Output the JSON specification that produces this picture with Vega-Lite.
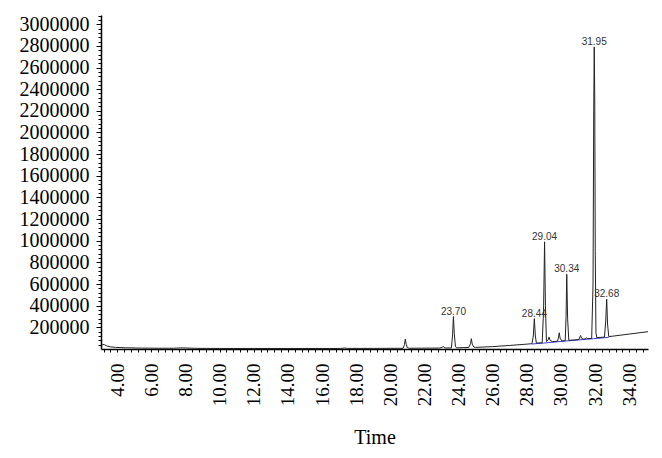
{
  "$schema": "https://vega.github.io/schema/vega-lite/v6.json",
  "width": 547,
  "height": 334,
  "autosize": {"type": "none"},
  "padding": {"left": 101, "top": 15, "right": 14, "bottom": 109},
  "background": "white",
  "config": {"view": {"stroke": null}},
  "datasets": {
    "signal": [
      {"t": 3.05, "v": 25000}, {"t": 3.15, "v": 42000}, {"t": 3.25, "v": 40000}, {"t": 3.4, "v": 28000},
      {"t": 3.6, "v": 20000}, {"t": 3.9, "v": 15000}, {"t": 4.5, "v": 11000}, {"t": 5.5, "v": 8000},
      {"t": 6.5, "v": 7000}, {"t": 7.3, "v": 7000}, {"t": 7.7, "v": 10000}, {"t": 8.1, "v": 9000},
      {"t": 8.6, "v": 6000}, {"t": 10, "v": 5000}, {"t": 12, "v": 5000}, {"t": 14, "v": 5000},
      {"t": 16, "v": 5000}, {"t": 17.1, "v": 5000}, {"t": 17.3, "v": 9000}, {"t": 17.5, "v": 5500},
      {"t": 19, "v": 5500}, {"t": 20.75, "v": 6500}, {"t": 20.83, "v": 40000}, {"t": 20.88, "v": 92000},
      {"t": 20.93, "v": 45000}, {"t": 21.0, "v": 12000}, {"t": 21.1, "v": 7000}, {"t": 22.9, "v": 8500},
      {"t": 23.05, "v": 15000}, {"t": 23.1, "v": 25000}, {"t": 23.15, "v": 14000}, {"t": 23.25, "v": 9000},
      {"t": 23.58, "v": 10000}, {"t": 23.65, "v": 130000}, {"t": 23.7, "v": 300000}, {"t": 23.75, "v": 140000},
      {"t": 23.82, "v": 20000}, {"t": 23.9, "v": 11000}, {"t": 24.6, "v": 14000}, {"t": 24.7, "v": 50000},
      {"t": 24.75, "v": 95000}, {"t": 24.8, "v": 45000}, {"t": 24.9, "v": 17000}, {"t": 25, "v": 15000},
      {"t": 26, "v": 22000}, {"t": 27, "v": 33000}, {"t": 28.0, "v": 45000}, {"t": 28.3, "v": 49000},
      {"t": 28.38, "v": 120000}, {"t": 28.44, "v": 280000}, {"t": 28.5, "v": 120000}, {"t": 28.56, "v": 55000},
      {"t": 28.9, "v": 57000}, {"t": 28.98, "v": 350000}, {"t": 29.04, "v": 990000}, {"t": 29.09, "v": 400000},
      {"t": 29.15, "v": 70000}, {"t": 29.25, "v": 85000}, {"t": 29.3, "v": 110000}, {"t": 29.36, "v": 80000},
      {"t": 29.5, "v": 68000}, {"t": 29.8, "v": 72000}, {"t": 29.86, "v": 110000}, {"t": 29.9, "v": 150000},
      {"t": 29.95, "v": 100000}, {"t": 30.05, "v": 75000}, {"t": 30.25, "v": 77000}, {"t": 30.3, "v": 300000},
      {"t": 30.34, "v": 690000}, {"t": 30.39, "v": 280000}, {"t": 30.46, "v": 80000}, {"t": 30.8, "v": 84000},
      {"t": 31.05, "v": 88000}, {"t": 31.12, "v": 115000}, {"t": 31.15, "v": 125000}, {"t": 31.2, "v": 100000},
      {"t": 31.3, "v": 91000}, {"t": 31.45, "v": 95000}, {"t": 31.5, "v": 105000}, {"t": 31.55, "v": 96000},
      {"t": 31.8, "v": 98000}, {"t": 31.88, "v": 600000}, {"t": 31.92, "v": 2200000}, {"t": 31.95, "v": 2790000},
      {"t": 31.98, "v": 2300000}, {"t": 32.01, "v": 900000}, {"t": 32.05, "v": 150000}, {"t": 32.1, "v": 105000},
      {"t": 32.55, "v": 110000}, {"t": 32.62, "v": 250000}, {"t": 32.68, "v": 460000}, {"t": 32.73, "v": 230000},
      {"t": 32.8, "v": 115000}, {"t": 33, "v": 118000}, {"t": 34, "v": 138000}, {"t": 35.1, "v": 160000}
    ],
    "baseline": [
      {"t": 28.3, "v": 46000}, {"t": 29.0, "v": 55000}, {"t": 30.3, "v": 74000},
      {"t": 31.9, "v": 95000}, {"t": 32.8, "v": 108000}
    ],
    "peaks": [
      {"t": 23.7, "v": 300000, "label": "23.70"},
      {"t": 28.44, "v": 280000, "label": "28.44"},
      {"t": 29.04, "v": 990000, "label": "29.04"},
      {"t": 30.34, "v": 690000, "label": "30.34"},
      {"t": 31.95, "v": 2790000, "label": "31.95"},
      {"t": 32.68, "v": 460000, "label": "32.68"}
    ]
  },
  "encoding": {
    "x": {
      "field": "t", "type": "quantitative",
      "scale": {"domain": [3.05, 35.1], "nice": false, "zero": false},
      "axis": {
        "title": "Time",
        "titleFont": "Liberation Serif", "titleFontSize": 20, "titleFontWeight": "normal", "titleColor": "#000",
        "titlePadding": 22,
        "values": [3.2,3.6,4,4.4,4.8,5.2,5.6,6,6.4,6.8,7.2,7.6,8,8.4,8.8,9.2,9.6,10,10.4,10.8,11.2,11.6,12,12.4,12.8,13.2,13.6,14,14.4,14.8,15.2,15.6,16,16.4,16.8,17.2,17.6,18,18.4,18.8,19.2,19.6,20,20.4,20.8,21.2,21.6,22,22.4,22.8,23.2,23.6,24,24.4,24.8,25.2,25.6,26,26.4,26.8,27.2,27.6,28,28.4,28.8,29.2,29.6,30,30.4,30.8,31.2,31.6,32,32.4,32.8,33.2,33.6,34,34.4,34.8],
        "labelExpr": "abs(datum.value - round(datum.value / 2) * 2) < 0.01 ? format(datum.value, '.2f') : ''",
        "labelAngle": 270, "labelAlign": "right", "labelBaseline": "middle",
        "labelFont": "Liberation Serif", "labelFontSize": 19, "labelColor": "#000",
        "labelPadding": 11, "labelOverlap": false, "labelFlush": false,
        "tickSize": 3, "tickColor": "#000", "tickWidth": 1,
        "domainColor": "#000", "domainWidth": 1.5, "grid": false
      }
    },
    "y": {
      "field": "v", "type": "quantitative",
      "scale": {"domain": [0, 3085000], "nice": false},
      "axis": {
        "title": null,
        "values": [40000,80000,120000,160000,200000,240000,280000,320000,360000,400000,440000,480000,520000,560000,600000,640000,680000,720000,760000,800000,840000,880000,920000,960000,1000000,1040000,1080000,1120000,1160000,1200000,1240000,1280000,1320000,1360000,1400000,1440000,1480000,1520000,1560000,1600000,1640000,1680000,1720000,1760000,1800000,1840000,1880000,1920000,1960000,2000000,2040000,2080000,2120000,2160000,2200000,2240000,2280000,2320000,2360000,2400000,2440000,2480000,2520000,2560000,2600000,2640000,2680000,2720000,2760000,2800000,2840000,2880000,2920000,2960000,3000000,3040000,3080000],
        "labelExpr": "datum.value % 200000 == 0 ? format(datum.value, 'd') : ''",
        "labelFont": "Liberation Serif", "labelFontSize": 20, "labelColor": "#000",
        "labelPadding": 7, "labelOverlap": false, "labelFlush": false,
        "tickSize": {"condition": {"test": "datum.value % 200000 == 0", "value": 5}, "value": 3},
        "tickColor": "#000", "tickWidth": 1,
        "domainColor": "#000", "domainWidth": 1.5, "grid": false
      }
    }
  },
  "layer": [
    {
      "data": {"name": "baseline"},
      "mark": {"type": "line", "color": "#3a3adf", "strokeWidth": 1, "clip": true}
    },
    {
      "data": {"name": "signal"},
      "mark": {"type": "line", "color": "#222222", "strokeWidth": 1, "clip": true}
    },
    {
      "data": {"name": "peaks"},
      "mark": {"type": "text", "font": "Liberation Sans", "fontSize": 10, "color": "#333333", "baseline": "alphabetic", "dy": -2},
      "encoding": {"text": {"field": "label"}}
    }
  ]
}
